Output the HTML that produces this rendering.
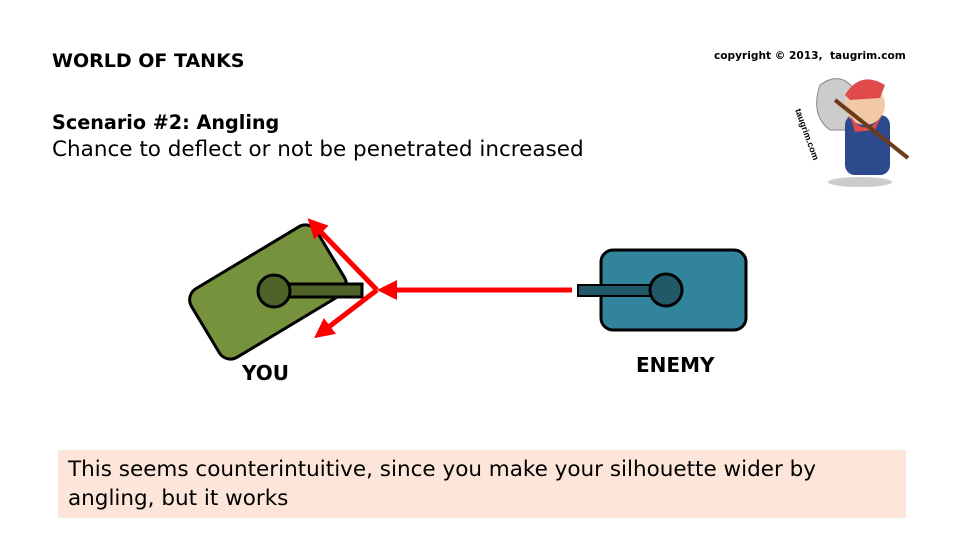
<!DOCTYPE html>
<html><head><style>
body{margin:0;width:965px;height:549px;background:#fff;font-family:"DejaVu Sans","Liberation Sans",sans-serif;position:relative;overflow:hidden}
.t{position:absolute;color:#000;white-space:nowrap}
</style></head><body>
<div class="t" style="left:52px;top:50px;font-size:19px;font-weight:bold">WORLD OF TANKS</div>
<div class="t" style="left:714px;top:50px;font-size:10.6px;font-weight:bold">copyright © 2013,&nbsp; taugrim.com</div>
<div class="t" style="left:52px;top:111px;font-size:19.2px;font-weight:bold">Scenario #2: Angling</div>
<div class="t" style="left:52px;top:137px;font-size:21.5px">Chance to deflect or not be penetrated increased</div>
<div style="position:absolute;left:58px;top:450px;width:848px;height:68px;background:#fde6d9"></div>
<div class="t" style="left:68px;top:455px;font-size:21.5px;line-height:29px">This seems counterintuitive, since you make your silhouette wider by<br>angling, but it works</div>
<div class="t" style="left:242px;top:361px;font-size:20px;font-weight:bold">YOU</div>
<div class="t" style="left:636px;top:353px;font-size:20px;font-weight:bold">ENEMY</div>
<svg width="965" height="549" style="position:absolute;left:0;top:0">
<defs><marker id="a" markerWidth="4" markerHeight="4" refX="1" refY="2" orient="auto"><path d="M0,0L4,2L0,4z" fill="#f00"/></marker></defs>
<rect x="195" y="252" width="146" height="80" rx="13" fill="#76923c" stroke="#000" stroke-width="3" transform="rotate(-31 268 292)"/>
<rect x="288" y="284" width="74" height="13" fill="#4f6228" stroke="#000" stroke-width="3"/>
<circle cx="274" cy="291" r="16" fill="#4f6228" stroke="#000" stroke-width="3"/>
<rect x="601" y="250" width="145" height="80" rx="12" fill="#31849b" stroke="#000" stroke-width="3"/>
<rect x="578" y="285" width="74" height="11" fill="#215968" stroke="#000" stroke-width="2"/>
<circle cx="666" cy="290" r="16" fill="#215968" stroke="#000" stroke-width="3"/>
<g stroke="#f00" stroke-width="5" fill="none">
<line x1="572" y1="290" x2="392" y2="290" marker-end="url(#a)"/>
<line x1="377" y1="290" x2="318" y2="229" marker-end="url(#a)"/>
<line x1="377" y1="290" x2="326" y2="329" marker-end="url(#a)"/>
</g>
<g transform="translate(790,70)">
<ellipse cx="70" cy="112" rx="32" ry="5" fill="#ccc"/>
<path d="M30,15 Q50,0 65,20 L55,60 L40,60 Q20,45 30,15z" fill="#ccc" stroke="#888"/>
<rect x="55" y="45" width="45" height="60" rx="10" fill="#2c4a8c"/>
<circle cx="75" cy="35" r="20" fill="#f2c9a8"/>
<path d="M55,25 Q70,0 95,15 L90,28 L60,30z" fill="#e04a4a"/>
<path d="M60,45 Q75,70 92,45 L85,60 L65,62z" fill="#e04a4a"/>
<line x1="45" y1="30" x2="118" y2="88" stroke="#6b3b1a" stroke-width="4"/>
<text x="5" y="40" font-size="9" font-weight="bold" transform="rotate(70 5 40)" font-family="Liberation Sans,sans-serif">taugrim.com</text>
</g>
</svg>
</body></html>
